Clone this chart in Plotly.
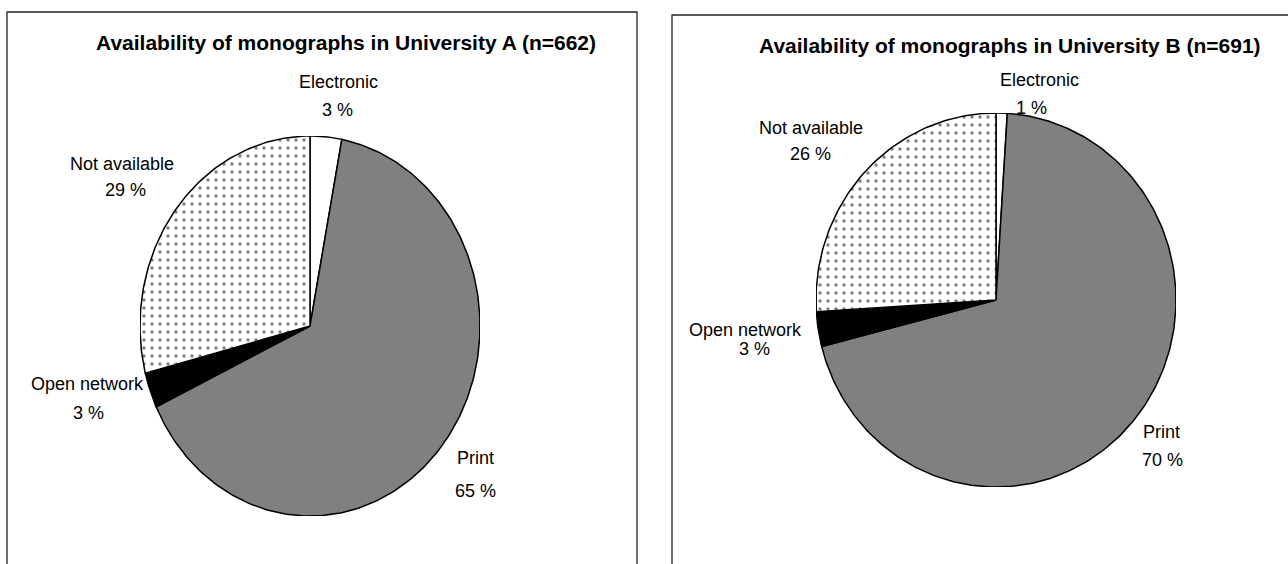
import numpy as np
import plotly.graph_objects as go

W, H = 1288, 564

# Availability categories, in clockwise order from 12 o'clock
categories = ["Electronic", "Print", "Open network", "Not available"]
share_a = [3, 65, 3, 29]   # University A (n=662), percent
share_b = [1, 70, 3, 26]   # University B (n=691), percent
titles = ["Availability of monographs in University A (n=662)",
          "Availability of monographs in University B (n=691)"]

fills = ["white", "#808080", "black", "white"]
dotted = [False, False, False, True]
FONT = "Liberation Sans, Arial, sans-serif"


def px_x(v):
    return v / W


def px_y(v):
    return 1 - v / H


def add_pie(fig, values, ax, cx, cy, rx, ry):
    """Draw a (slightly elliptical) pie on its own hidden axis pair."""
    xa = "xaxis" if ax == 1 else f"xaxis{ax}"
    ya = "yaxis" if ax == 1 else f"yaxis{ax}"
    fig.update_layout({
        xa: dict(domain=[px_x(cx - rx), px_x(cx + rx)], range=[-1, 1],
                 visible=False, fixedrange=True),
        ya: dict(domain=[px_y(cy + ry), px_y(cy - ry)], range=[-1, 1],
                 visible=False, fixedrange=True),
    })
    total = float(sum(values))
    start = 0.0
    for name, v, col, dot in zip(categories, values, fills, dotted):
        a0 = 2 * np.pi * start / total
        a1 = 2 * np.pi * (start + v) / total
        t = np.linspace(a0, a1, max(int(v * 4), 8))
        xs = np.concatenate([[0], np.sin(t), [0]])
        ys = np.concatenate([[0], np.cos(t), [0]])
        kw = {}
        if dot:
            kw["fillpattern"] = dict(shape=".", fgcolor="black",
                                     bgcolor="white", size=8, solidity=0.14)
        fig.add_trace(go.Scatter(
            x=xs, y=ys, mode="lines", fill="toself", fillcolor=col,
            line=dict(color="black", width=1.5), name=name,
            hoveron="fills", hoverinfo="name", showlegend=False,
            xaxis="x" if ax == 1 else f"x{ax}",
            yaxis="y" if ax == 1 else f"y{ax}", **kw))
        start += v


fig = go.Figure()
add_pie(fig, share_a, 1, 310, 326, 170, 190)
add_pie(fig, share_b, 2, 996, 300, 180, 187)

# Label positions (pixel centres) for the category name and its share
label_pos_a = [((338, 82), (337, 110)), ((476, 458), (476, 491)),
               ((87, 384), (88, 413)), ((122, 164), (125, 190))]
label_pos_b = [((1039, 80), (1031, 108)), ((1161, 432), (1162, 460)),
               ((745, 330), (755, 349)), ((811, 128), (810, 154))]

ann = []
for vals, pos in ((share_a, label_pos_a), (share_b, label_pos_b)):
    for name, v, (p_name, p_val) in zip(categories, vals, pos):
        ann.append(dict(x=px_x(p_name[0]), y=px_y(p_name[1]), text=name))
        ann.append(dict(x=px_x(p_val[0]), y=px_y(p_val[1]), text=f"{v} %"))
for a in ann:
    a.update(xref="paper", yref="paper", showarrow=False,
             xanchor="center", yanchor="middle",
             font=dict(family=FONT, size=18, color="black"))

for t, cx, cy in ((titles[0], 346, 42), (titles[1], 1010, 46)):
    ann.append(dict(x=px_x(cx), y=px_y(cy), xref="paper", yref="paper",
                    text=f"<b>{t}</b>", showarrow=False, xanchor="center",
                    yanchor="middle",
                    font=dict(family=FONT, size=21, color="black")))

# Panel frames (bottom edges fall outside the page)
frames = [
    dict(type="rect", xref="paper", yref="paper", x0=px_x(7), x1=px_x(637),
         y0=-0.2, y1=px_y(12), line=dict(color="#222", width=1.3)),
    dict(type="rect", xref="paper", yref="paper", x0=px_x(672), x1=1.2,
         y0=-0.2, y1=px_y(15), line=dict(color="#222", width=1.3)),
]

fig.update_layout(
    width=W, height=H, margin=dict(l=0, r=0, t=0, b=0),
    paper_bgcolor="white", plot_bgcolor="white",
    annotations=ann, shapes=frames,
)

fig.write_html("out.html")
